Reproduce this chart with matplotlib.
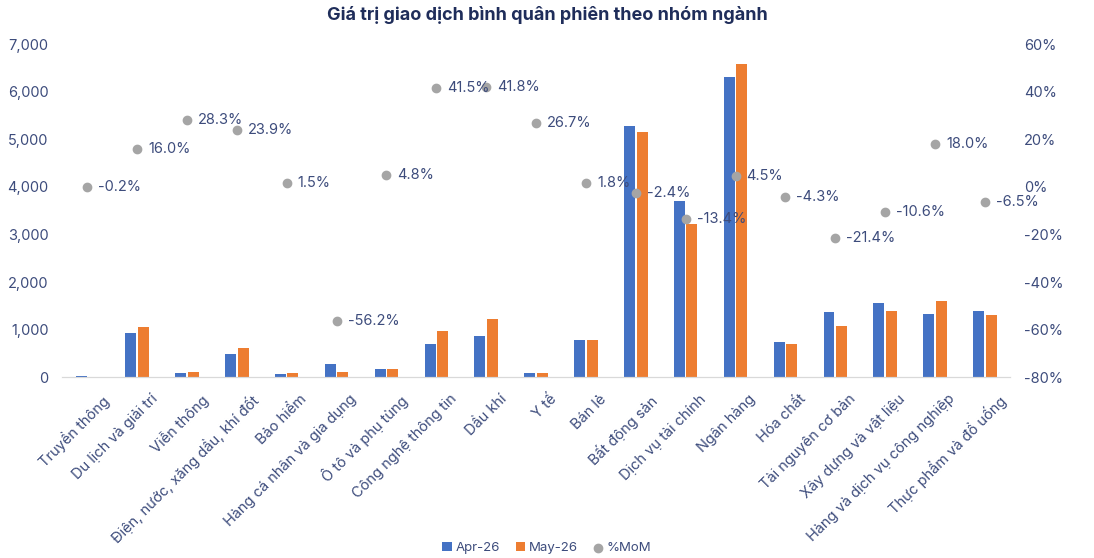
import numpy as np
import matplotlib.pyplot as plt
import matplotlib.transforms as mtransforms
from matplotlib.ticker import FuncFormatter

plt.rcParams['font.family'] = ['Inter', 'DejaVu Sans']

# data
categories = ['Truyền thông', 'Du lịch và giải trí', 'Viễn thông', 'Điện, nước, xăng dầu, khí đốt',
              'Bảo hiểm', 'Hàng cá nhân và gia dụng', 'Ô tô và phụ tùng', 'Công nghệ thông tin',
              'Dầu khí', 'Y tế', 'Bán lẻ', 'Bất động sản', 'Dịch vụ tài chính', 'Ngân hàng',
              'Hóa chất', 'Tài nguyên cơ bản', 'Xây dựng và vật liệu',
              'Hàng và dịch vụ công nghiệp', 'Thực phẩm và đồ uống']
apr26 = [15, 920, 84, 483, 63, 287, 175, 700, 869, 84, 785, 5280, 3700, 6300,
         736, 1373, 1562, 1338, 1394]
may26 = [12, 1057, 105, 610, 84, 119, 175, 974, 1233, 98, 785, 5160, 3216, 6580,
         708, 1086, 1394, 1591, 1310]
mom = [-0.2, 16.0, 28.3, 23.9, 1.5, -56.2, 4.8, 41.5, 41.8, 26.7, 1.8, -2.4, -13.4,
       4.5, -4.3, -21.4, -10.6, 18.0, -6.5]

c_blue = '#4472C4'
c_orange = '#ED7D31'
c_gray = '#A5A5A5'
c_text = '#3D4C7C'

fig = plt.figure(figsize=(10.94, 5.58), dpi=100)
ax = fig.add_axes([0.057, 0.324, 0.866, 0.597])
ax2 = ax.twinx()

x = np.arange(len(categories))
w = 0.22
ax.bar(x - 0.125, apr26, w, color=c_blue, label='Apr-26', zorder=2)
ax.bar(x + 0.125, may26, w, color=c_orange, label='May-26', zorder=2)

ax2.scatter(x, mom, s=36, color=c_gray, label='%MoM', zorder=3)
for xi, v in zip(x, mom):
    ax2.annotate(f'{v:.1f}%', (xi, v), xytext=(8, 0), textcoords='offset points',
                 ha='left', va='center', fontsize=10.5, color=c_text)

ax.set_xlim(-0.5, len(categories) - 0.5)
ax.set_ylim(0, 7000)
ax.set_yticks(range(0, 7001, 1000))
ax.yaxis.set_major_formatter(FuncFormatter(lambda v, p: f'{v:,.0f}'))
ax2.set_ylim(-80, 60)
ax2.set_yticks(range(-80, 61, 20))
ax2.yaxis.set_major_formatter(FuncFormatter(lambda v, p: f'{v:.0f}%'))

ax.set_xticks(x)
ax.set_xticklabels(categories, rotation=45, ha='right', rotation_mode='anchor',
                   fontsize=10.5, color=c_text)
ax.tick_params(axis='x', length=0, pad=7)
# shift the rotated labels a little to the right and down
offset = mtransforms.ScaledTranslation(0.13, -0.05, fig.dpi_scale_trans)
for lbl in ax.get_xticklabels():
    lbl.set_transform(lbl.get_transform() + offset)
ax.tick_params(axis='y', length=0, labelsize=10.5, labelcolor=c_text, pad=10)
ax2.tick_params(axis='y', length=0, labelsize=10.5, labelcolor=c_text, pad=10)

for a in (ax, ax2):
    for s in ['top', 'left', 'right']:
        a.spines[s].set_visible(False)
    a.spines['bottom'].set_color('#D9D9D9')

fig.suptitle('Giá trị giao dịch bình quân phiên theo nhóm ngành', x=0.5, y=0.99,
             fontsize=13, fontweight='bold', color='#1F2D5A')

h1, l1 = ax.get_legend_handles_labels()
h2, l2 = ax2.get_legend_handles_labels()
fig.legend(h1 + h2, l1 + l2, loc='lower center', bbox_to_anchor=(0.5, -0.015), ncol=3,
           frameon=False, fontsize=9.5, labelcolor=c_text, handlelength=0.7,
           handleheight=0.7, handletextpad=0.3, columnspacing=1.2)

plt.savefig('out.png', dpi=100)
